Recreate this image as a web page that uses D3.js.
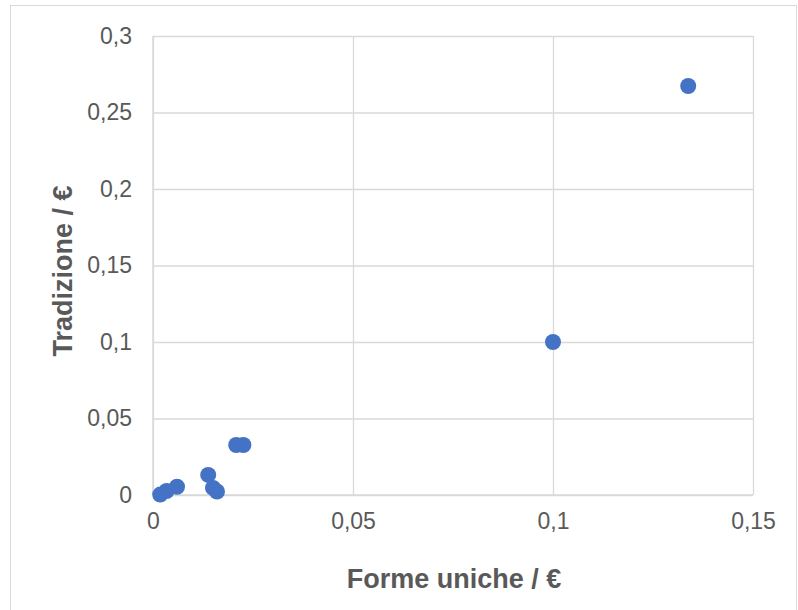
<!DOCTYPE html>
<html>
<head>
<meta charset="utf-8">
<script src="https://cdn.jsdelivr.net/npm/d3@7"></script>
<style>
  html, body { margin: 0; padding: 0; background: #fff; }
  svg { display: block; font-family: "Liberation Sans", Arial, sans-serif; }
</style>
</head>
<body>
<svg id="chart" width="798" height="610"></svg>
<script>
// Unit cost per piece: unique forms (x) vs. traditional (y), in euro
const formeUniche = [0.1338, 0.1000, 0.0226, 0.0208, 0.0138, 0.0150, 0.0160, 0.0060, 0.0034, 0.0018];
const tradizione  = [0.2673, 0.1000, 0.0327, 0.0327, 0.0131, 0.0046, 0.0023, 0.0054, 0.0026, 0.0003];
const xTicks = [0, 0.05, 0.1, 0.15];
const yTicks = [0, 0.05, 0.1, 0.15, 0.2, 0.25, 0.3];

const svg = d3.select("#chart");
const W = 798, H = 610;
const plot = { left: 153, right: 753, top: 36, bottom: 495 };

// Outer chart frame
svg.append("rect")
  .attr("x", 10.5).attr("y", 5.5)
  .attr("width", W - 12).attr("height", H - 4)
  .attr("fill", "#fff").attr("stroke", "#d9d9d9").attr("stroke-width", 1);

const x = d3.scaleLinear().domain([0, 0.15]).range([plot.left, plot.right]);
const y = d3.scaleLinear().domain([0, 0.3]).range([plot.bottom, plot.top]);

const fmt = d => d3.format("~g")(d).replace(".", ",");

// Vertical gridlines + x axis
const xAxis = d3.axisBottom(x).tickValues(xTicks).tickFormat(fmt)
  .tickSize(-(plot.bottom - plot.top)).tickPadding(18);
const gx = svg.append("g").attr("transform", `translate(0,${plot.bottom})`).call(xAxis);
gx.select(".domain").remove();
gx.selectAll(".tick line").attr("stroke", "#d9d9d9").attr("stroke-width", 1.3);
gx.selectAll(".tick text").attr("fill", "#595959").attr("font-size", 23);

// Horizontal gridlines + y axis
const yAxis = d3.axisLeft(y).tickValues(yTicks).tickFormat(fmt)
  .tickSize(-(plot.right - plot.left)).tickPadding(21);
const gy = svg.append("g").attr("transform", `translate(${plot.left},0)`).call(yAxis);
gy.select(".domain").remove();
gy.selectAll(".tick line").attr("stroke", "#d9d9d9").attr("stroke-width", 1.3);
gy.selectAll(".tick text").attr("fill", "#595959").attr("font-size", 23);

// Axis baselines
svg.append("line")
  .attr("x1", plot.left).attr("x2", plot.right)
  .attr("y1", plot.bottom).attr("y2", plot.bottom)
  .attr("stroke", "#d9d9d9").attr("stroke-width", 1.5);
svg.append("line")
  .attr("x1", plot.left).attr("x2", plot.left)
  .attr("y1", plot.top).attr("y2", plot.bottom)
  .attr("stroke", "#d9d9d9").attr("stroke-width", 1.5);

// Points
svg.append("g").selectAll("circle")
  .data(formeUniche.map((v, i) => [v, tradizione[i]]))
  .join("circle")
  .attr("cx", d => x(d[0]))
  .attr("cy", d => y(d[1]))
  .attr("r", 8)
  .attr("fill", "#4472c4");

// Axis titles
svg.append("text")
  .attr("x", 454).attr("y", 588)
  .attr("text-anchor", "middle")
  .attr("font-size", 27).attr("font-weight", "bold").attr("fill", "#595959")
  .text("Forme uniche / €");

svg.append("text")
  .attr("transform", `translate(72,271) rotate(-90)`)
  .attr("text-anchor", "middle")
  .attr("font-size", 27).attr("font-weight", "bold").attr("fill", "#595959")
  .text("Tradizione / €");
</script>
</body>
</html>
